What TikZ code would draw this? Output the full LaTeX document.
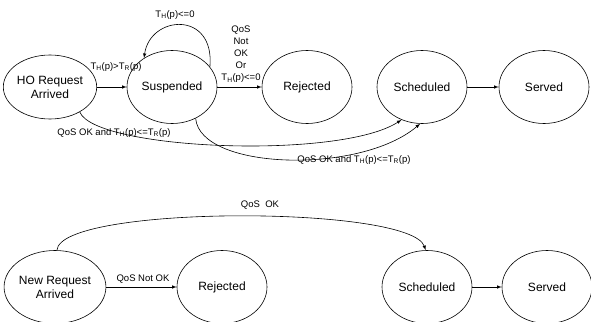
\documentclass[tikz,border=0pt]{standalone}
\usepackage{fontspec}
\setmainfont{Liberation Sans}
\usetikzlibrary{shapes.geometric,arrows,positioning}
\tikzset
{
	statenode/.style = {ellipse, draw=black, align=center, minimum width=90pt, minimum height=73pt, inner sep=0pt, line width=0.6pt, font=\fontsize{12}{14}\selectfont},
	edgelabel/.style = {align=center, inner sep=1pt, font=\fontsize{9.5}{12}\selectfont},
	transition/.style = {->, >=latex, draw=black, line width=0.6pt}
}

\begin{document}
\begin{tikzpicture}[x=1pt, y=-1pt]
\useasboundingbox (0,0) rectangle (591,321);
\clip (0,0) rectangle (591,321);
% handover requests
\node[statenode, minimum width=92pt, minimum height=64pt] (horeq) at (50,87) {HO Request\\Arrived};
\node[statenode] (susp) at (172,87) {Suspended};
\node[statenode] (rej) at (307,87) {Rejected};
\node[statenode] (sched) at (422,87) {Scheduled};
\node[statenode] (serv) at (544,87) {Served};

\draw[transition] (horeq) -- (susp);
\draw[transition] (susp) -- (rej);
\draw[transition] (sched) -- (serv);
\draw[transition] (susp.28) .. controls (215,10) and (150,15) .. (susp.134);
\draw[transition] (horeq.-40) .. controls (95,150) and (340,160) .. (sched.-122);
\draw[transition] (susp.-53) .. controls (200,170) and (360,175) .. (sched.-93);

\node[edgelabel] (lhs) at (116,67) {T\textsubscript{H}(p)>T\textsubscript{R}(p)};
\node[edgelabel] (lloop) at (175,15) {T\textsubscript{H}(p)<=0};
\node[edgelabel, anchor=south] (lrej) at (241,84) {QoS\\Not\\OK\\Or\\T\textsubscript{H}(p)<=0};
\node[edgelabel] (lho) at (114,133) {QoS OK and T\textsubscript{H}(p)<=T\textsubscript{R}(p)};
\node[edgelabel] (lsusp) at (354,160) {QoS OK and T\textsubscript{H}(p)<=T\textsubscript{R}(p)};

% new requests
\node[statenode] (newreq) at (55,287) {New Request\\Arrived};
\node[statenode] (rejnew) at (222,287) {Rejected};
\node[statenode] (schednew) at (427,287) {Scheduled};
\node[statenode] (servnew) at (547,287) {Served};

\draw[transition] (newreq) -- (rejnew);
\draw[transition] (schednew) -- (servnew);
\draw[transition] (newreq.87) .. controls (60,205) and (410,205) .. (schednew.92);

\node[edgelabel] (lnotok) at (143,279) {QoS Not OK};
\node[edgelabel] (lok) at (260,205) {QoS~~OK};
\end{tikzpicture}
\end{document}
